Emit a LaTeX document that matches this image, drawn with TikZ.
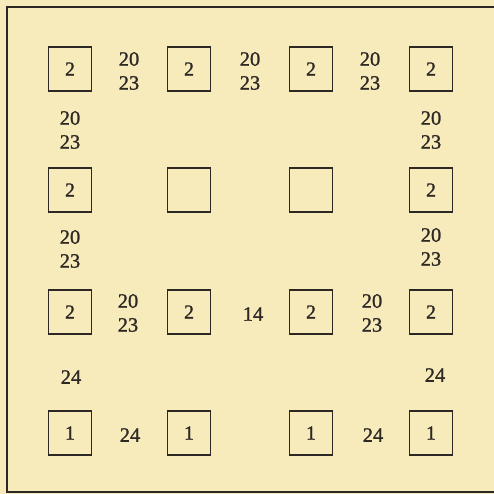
\documentclass[tikz,border=0pt]{standalone}
\usepackage{fontspec}
\newfontfamily\numfont[FakeBold=1.2]{Liberation Serif}
\begin{document}
\begin{tikzpicture}[x=1bp,y=-1bp,
  ink/.style={draw=inkc,line width=1.7bp},
  cell/.style={ink,minimum width=43bp,minimum height=44bp,inner sep=0pt,font=\numfont\fontsize{20}{20}\selectfont,text=inkc},
  lab/.style={align=center,font=\numfont\fontsize{20.5}{24}\selectfont,text=inkc,inner sep=0pt}]
\definecolor{paper}{RGB}{247,235,188}
\definecolor{inkc}{RGB}{45,40,36}
\fill[paper] (0,0) rectangle (494,494);
\useasboundingbox (0,0) rectangle (494,494);
\coordinate (tl) at (7,7);
\coordinate (tr) at (494,7);
\coordinate (bl) at (7,492);
\coordinate (br) at (494,492);
\draw[ink] (tr) -- (tl) -- (bl) -- (br);
% boxes
\node[cell] (a1) at (70,69) {2};
\node[cell] (a2) at (189,69) {2};
\node[cell] (a3) at (311,69) {2};
\node[cell] (a4) at (431,69) {2};
\node[cell] (b1) at (70,190) {2};
\node[cell] (b2) at (189,190) {};
\node[cell] (b3) at (311,190) {};
\node[cell] (b4) at (431,190) {2};
\node[cell] (c1) at (70,312) {2};
\node[cell] (c2) at (189,312) {2};
\node[cell] (c3) at (311,312) {2};
\node[cell] (c4) at (431,312) {2};
\node[cell] (d1) at (70,433) {1};
\node[cell] (d2) at (189,433) {1};
\node[cell] (d3) at (311,433) {1};
\node[cell] (d4) at (431,433) {1};
% labels
\node[lab] (l1) at (129,71) {20\\23};
\node[lab] (l2) at (250,71) {20\\23};
\node[lab] (l3) at (370,71) {20\\23};
\node[lab] (l4) at (70,130) {20\\23};
\node[lab] (l5) at (431,130) {20\\23};
\node[lab] (l6) at (70,249) {20\\23};
\node[lab] (l7) at (431,247) {20\\23};
\node[lab] (l8) at (128,313) {20\\23};
\node[lab] (l9) at (253,314) {14};
\node[lab] (l10) at (372,313) {20\\23};
\node[lab] (l11) at (71,377) {24};
\node[lab] (l12) at (435,375) {24};
\node[lab] (l13) at (130,435) {24};
\node[lab] (l14) at (373,435) {24};
\end{tikzpicture}
\end{document}
